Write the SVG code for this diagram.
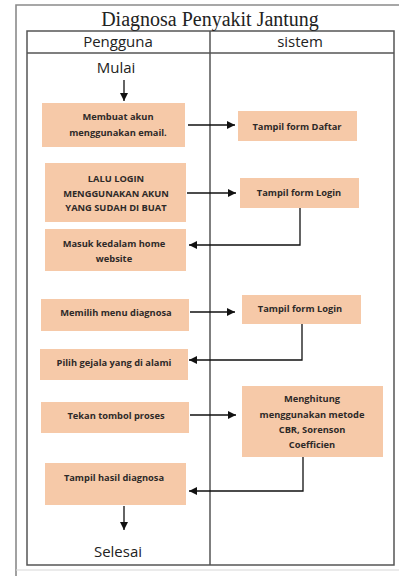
<svg xmlns="http://www.w3.org/2000/svg" width="399" height="576" viewBox="0 0 399 576">
<defs>
<marker id="ah" viewBox="0 0 10 10" refX="10" refY="5" markerWidth="9" markerHeight="8" markerUnits="userSpaceOnUse" orient="auto">
<path d="M0,0 L10,5 L0,10 Z" fill="#111"/>
</marker>
<style>
.box{fill:#f6c9a8;}
.bt{font-family:"Open Sans","Noto Sans",sans-serif;font-weight:bold;font-size:9.3px;fill:#2e2a28;text-anchor:middle;}
.hd{font-family:"Open Sans","Noto Sans",sans-serif;font-size:15px;fill:#222;text-anchor:middle;}
.conn{fill:none;stroke:#111;stroke-width:1.3;}
.tbl{fill:none;stroke:#555;stroke-width:1.5;}
</style>
</defs>
<rect width="399" height="576" fill="#fff"/>
<g id="frame">
<path d="M16,576 V5 H399" fill="none" stroke="#8a8a8a" stroke-width="1.6"/>
<path d="M16,570 H399" fill="none" stroke="#d8d8d8" stroke-width="1.2"/>
<rect class="tbl" x="27" y="31" width="367" height="534"/>
<line class="tbl" x1="27" y1="53" x2="394" y2="53"/>
<line class="tbl" x1="210" y1="31" x2="210" y2="565"/>
<text x="210" y="26" font-family="'Liberation Serif',serif" font-size="20" fill="#222" text-anchor="middle">Diagnosa Penyakit Jantung</text>
<text class="hd" x="118" y="47">Pengguna</text>
<text class="hd" x="300" y="47">sistem</text>
</g>
<g id="start"><text class="hd" x="116" y="73" font-size="14">Mulai</text></g>
<g id="end"><text class="hd" x="118" y="557" font-size="16">Selesai</text></g>
<g id="n1"><rect class="box" x="42" y="103" width="143" height="44"/>
<text class="bt" x="118" y="119.5">Membuat akun</text><text class="bt" x="118" y="136">menggunakan email.</text></g>
<g id="n2"><rect class="box" x="238" y="111" width="119" height="30"/>
<text class="bt" x="297" y="129.5">Tampil form Daftar</text></g>
<g id="n3"><rect class="box" x="45" y="163" width="141" height="59"/>
<text class="bt" x="116" y="181.5">LALU LOGIN</text><text class="bt" x="116" y="196.5">MENGGUNAKAN AKUN</text><text class="bt" x="116" y="211">YANG SUDAH DI BUAT</text></g>
<g id="n4"><rect class="box" x="240" y="178" width="119" height="30"/>
<text class="bt" x="299" y="195.5">Tampil form Login</text></g>
<g id="n5"><rect class="box" x="45" y="229" width="141" height="42"/>
<text class="bt" x="114" y="246.5">Masuk kedalam home</text><text class="bt" x="114" y="261.5">website</text></g>
<g id="n6"><rect class="box" x="41" y="299" width="148" height="32"/>
<text class="bt" x="116" y="315.5">Memilih menu diagnosa</text></g>
<g id="n7"><rect class="box" x="242" y="295" width="119" height="29"/>
<text class="bt" x="300" y="311.5">Tampil form Login</text></g>
<g id="n8"><rect class="box" x="40" y="349" width="148" height="31"/>
<text class="bt" x="114" y="365.5">Pilih gejala yang di alami</text></g>
<g id="n9"><rect class="box" x="41" y="402" width="148" height="31"/>
<text class="bt" x="116" y="418.5">Tekan tombol proses</text></g>
<g id="n10"><rect class="box" x="242" y="386" width="141" height="71"/>
<text class="bt" x="312" y="402">Menghitung</text><text class="bt" x="312" y="417.5">menggunakan metode</text><text class="bt" x="312" y="432.5">CBR, Sorenson</text><text class="bt" x="312" y="447.5">Coefficien</text></g>
<g id="n11"><rect class="box" x="45" y="463" width="141" height="42"/>
<text class="bt" x="114" y="480.5">Tampil hasil diagnosa</text></g>
<g id="connectors">
<path class="conn" d="M124,80 V101" marker-end="url(#ah)"/>
<path class="conn" d="M188,125 H235" marker-end="url(#ah)"/>
<path class="conn" d="M187,193 H236" marker-end="url(#ah)"/>
<path class="conn" d="M300,208 V245 H189" marker-end="url(#ah)"/>
<path class="conn" d="M190,312 H235" marker-end="url(#ah)"/>
<path class="conn" d="M302,324 V360 H189" marker-end="url(#ah)"/>
<path class="conn" d="M190,415 H236" marker-end="url(#ah)"/>
<path class="conn" d="M303,457 V491 H189" marker-end="url(#ah)"/>
<path class="conn" d="M124,506 V530" marker-end="url(#ah)"/>
</g>
</svg>
